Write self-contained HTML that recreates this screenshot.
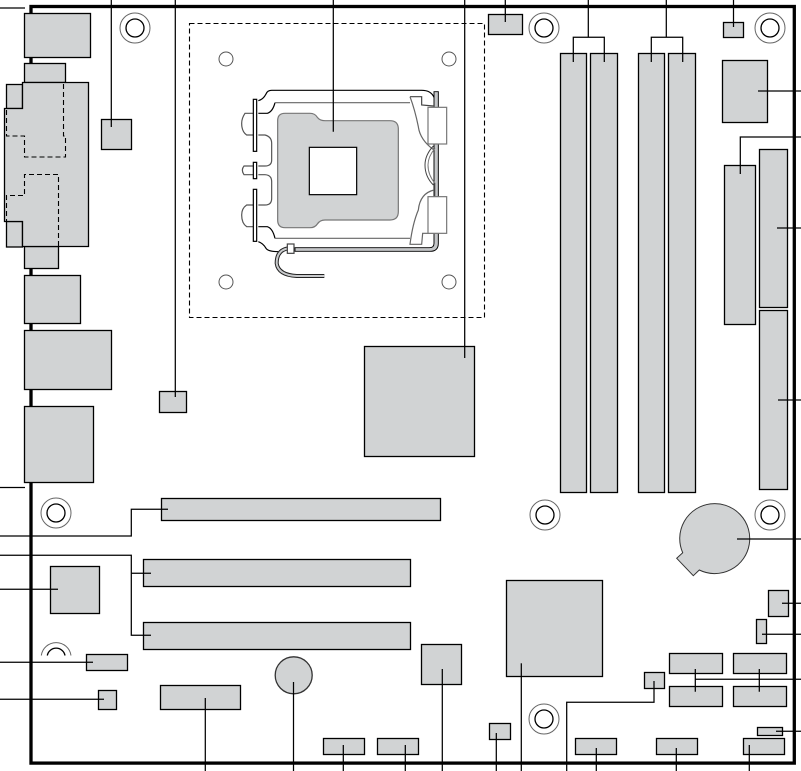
<!DOCTYPE html>
<html><head><meta charset="utf-8"><title>Board diagram</title>
<style>html,body{margin:0;padding:0;background:#fff}svg{display:block}</style></head>
<body>
<svg width="801" height="771" viewBox="0 0 801 771" xmlns="http://www.w3.org/2000/svg">
<rect width="801" height="771" fill="#fff"/>
<rect x="31" y="6.5" width="763.3" height="756.6" fill="none" stroke="#000" stroke-width="3.3"/>
<g fill="none" stroke="#000" stroke-width="1">
 <g stroke="#666"><circle cx="135" cy="28" r="15"/><circle cx="544" cy="28" r="15"/><circle cx="770" cy="28" r="15"/><circle cx="56" cy="513" r="15"/><circle cx="545" cy="515" r="15"/><circle cx="770" cy="515" r="15"/><circle cx="544" cy="719" r="15"/><path d="M41.3 655.5A15 15 0 0 1 71 655.5"/></g>
 <g stroke-width="1.3"><circle cx="135" cy="28" r="9"/><circle cx="544" cy="28" r="9"/><circle cx="770" cy="28" r="9"/><circle cx="56" cy="513" r="9"/><circle cx="545" cy="515" r="9"/><circle cx="770" cy="515" r="9"/><circle cx="544" cy="719" r="9"/><path d="M47.3 655.5A9 9 0 0 1 65 655.5"/></g>
</g>
<rect x="189.5" y="23.5" width="295" height="294" fill="none" stroke="#000" stroke-width="1.1" stroke-dasharray="5 3"/>
<g fill="#fff" stroke="#555" stroke-width="1"><circle cx="226" cy="59" r="7"/><circle cx="449" cy="59" r="7"/><circle cx="226" cy="282" r="7"/><circle cx="449" cy="282" r="7"/></g>
<g fill="#d1d3d4" stroke="#000" stroke-width="1.3">
 <rect x="6.5" y="84.5" width="16" height="24"/>
 <rect x="6.5" y="221.5" width="16" height="25.5"/>
 <rect x="24.5" y="13.5" width="66" height="44"/>
 <rect x="24.5" y="63.5" width="41" height="19"/>
 <rect x="24.5" y="246.5" width="34" height="22"/>
 <path d="M22.5 82.5H88.5V246.5H22.5V221.5H4.5V108.5H22.5Z"/>
 <rect x="24.5" y="275.5" width="56" height="48"/>
 <rect x="24.5" y="330.5" width="87" height="59"/>
 <rect x="24.5" y="406.5" width="69" height="76"/>
 <rect x="101.5" y="119.5" width="30" height="30"/>
 <rect x="159.5" y="391.5" width="27" height="21"/>
 <rect x="364.5" y="346.5" width="110" height="110"/>
 <rect x="488.5" y="14.5" width="34" height="20"/>
 <rect x="560.5" y="53.5" width="26" height="439"/>
 <rect x="590.5" y="53.5" width="27" height="439"/>
 <rect x="638.5" y="53.5" width="26" height="439"/>
 <rect x="668.5" y="53.5" width="27" height="439"/>
 <rect x="723.5" y="22.5" width="20" height="15"/>
 <rect x="722.5" y="60.5" width="45" height="62"/>
 <rect x="724.5" y="165.5" width="31" height="159"/>
 <rect x="759.5" y="149.5" width="28" height="158"/>
 <rect x="759.5" y="310.5" width="28" height="179"/>
 <rect x="161.5" y="498.5" width="279" height="22"/>
 <rect x="143.5" y="559.5" width="267" height="27"/>
 <rect x="143.5" y="622.5" width="267" height="27"/>
 <rect x="50.5" y="566.5" width="49" height="47"/>
 <rect x="86.5" y="654.5" width="41" height="16"/>
 <rect x="98.5" y="690.5" width="18" height="19"/>
 <rect x="160.5" y="685.5" width="80" height="24"/>
 <rect x="323.5" y="738.5" width="41" height="16"/>
 <rect x="377.5" y="738.5" width="41" height="16"/>
 <rect x="421.5" y="644.5" width="40" height="40"/>
 <rect x="489.5" y="723.5" width="21" height="16"/>
 <rect x="506.5" y="580.5" width="96" height="96"/>
 <rect x="644.5" y="672.5" width="20" height="16"/>
 <rect x="669.5" y="653.5" width="53" height="20"/>
 <rect x="733.5" y="653.5" width="53" height="20"/>
 <rect x="669.5" y="686.5" width="53" height="20"/>
 <rect x="733.5" y="686.5" width="53" height="20"/>
 <rect x="768.5" y="590.5" width="20" height="26"/>
 <rect x="756.5" y="619.5" width="10" height="24"/>
 <rect x="757.5" y="727.5" width="25" height="8"/>
 <rect x="575.5" y="738.5" width="41" height="16"/>
 <rect x="656.5" y="738.5" width="41" height="16"/>
 <rect x="743.5" y="738.5" width="41" height="16"/>
 <circle cx="293.7" cy="675.3" r="18.5" stroke="#333"/>
 <path d="M682.7 552.7A35 35 0 1 1 699.3 570L693.3 575.7L676.7 558.3Z" stroke="#333" stroke-width="1"/>
</g>
<g fill="none" stroke="#000" stroke-width="1.1" stroke-dasharray="5 3">
 <path d="M63.5 84V136H65.5V157H24.5V136H6.5V108"/>
 <path d="M58.5 246V174.5H24.5V195.5H6.5V222"/>
</g>
<g transform="translate(230 80) scale(.33333)" fill="none" stroke="#000" stroke-width="3.6">
 <path d="M612 35V490Q612 503 598 503L195 503V514H600Q625 514 625 490V35Z" fill="#c4c6c8" stroke-width="2.8"/>
 <path d="M85 62Q100 58 108 42Q112 31 125 31L575 31Q603 31 612 52"/>
 <path d="M85 100H112Q128 95 135 68"/>
 <path d="M135 68H540" stroke="#666"/>
 <path d="M85 440H112Q128 445 135 475"/>
 <path d="M135 475H540" stroke="#666"/>
 <path d="M85 485Q100 490 108 505Q115 515 145 515"/>
 <path d="M540 50H575V75L610 78" stroke="#444"/>
 <path d="M540 50Q555 90 565 140Q570 180 612 210" stroke="#666"/>
 <path d="M612 330Q570 340 565 390Q548 430 540 493H575L578 460H612" stroke="#666"/>
 <path d="M610 198Q585 225 585 255Q585 290 610 315" stroke="#444" stroke-width="3"/>
 <path d="M615 205Q594 230 594 255Q594 285 615 310V350" stroke="#777" stroke-width="3"/>
 <path d="M70 100H45Q35 115 35 130Q35 155 50 165H70" stroke="#555"/>
 <path d="M70 375H50Q35 385 35 405Q35 430 50 440H70" stroke="#555"/>
 <path d="M70 258H42Q32 270 42 284H70" stroke="#555"/>
 <path d="M85 165H105Q125 170 125 190V240Q125 258 105 258H85" stroke="#555"/>
 <path d="M85 284H105Q125 285 125 305V355Q125 375 105 375H85" stroke="#555"/>
 <rect x="70" y="58" width="10" height="156" fill="#fff"/>
 <rect x="70" y="247" width="10" height="49" fill="#fff"/>
 <rect x="70" y="328" width="10" height="156" fill="#fff"/>
 <rect x="594" y="82" width="56" height="110" fill="#fff" stroke="#777"/>
 <rect x="594" y="350" width="56" height="110" fill="#fff" stroke="#777"/>
 <path d="M175 505Q140 510 140 550Q145 585 200 588H283" stroke="#222" stroke-width="12"/>
 <path d="M175 505Q140 510 140 550Q145 585 200 588H283" stroke="#c8cacc" stroke-width="6"/>
 <rect x="172" y="492" width="20" height="28" fill="#fff" stroke="#444"/>
 <path d="M165 100H240Q255 100 262 112Q270 122 285 122H480Q505 122 505 147V395Q505 420 480 420H285Q270 420 262 432Q255 443 240 443H165Q143 443 143 420V122Q143 100 165 100Z" fill="#d1d3d4" stroke="#777"/>
 <rect x="238" y="202" width="142" height="142" fill="#fff" stroke="#000"/>
</g>
<g fill="none" stroke="#000" stroke-width="1.25">
 <path d="M0 8H25"/>
 <path d="M111.3 0V127"/>
 <path d="M175.3 0V397"/>
 <path d="M333.3 0V131.7"/>
 <path d="M464.7 0V358"/>
 <path d="M505.3 0V22"/>
 <path d="M588.3 0V37.3M573.3 62V37.3H604.3V62"/>
 <path d="M666.3 0V37.3M651.3 62V37.3H682.7V62"/>
 <path d="M733.5 0V27"/>
 <path d="M758 91H801"/>
 <path d="M801 137H740.3V174"/>
 <path d="M777 228H801"/>
 <path d="M778 400H801"/>
 <path d="M737 539H801"/>
 <path d="M782 603.3H801"/>
 <path d="M762 634.3H801"/>
 <path d="M695.3 669V691.7M759.3 669V691.7M695.3 679.3H801"/>
 <path d="M776 731.3H801"/>
 <path d="M0 487.5H25"/>
 <path d="M168 509.3H131.3V536H0"/>
 <path d="M0 555.3H131.3V635.3H151M131.3 573.3H151"/>
 <path d="M0 589.3H58"/>
 <path d="M0 662.3H93"/>
 <path d="M0 699.3H104"/>
 <path d="M205.3 698V771"/>
 <path d="M293.5 682V771"/>
 <path d="M343.3 745V771"/>
 <path d="M405.3 745V771"/>
 <path d="M442.3 669V771"/>
 <path d="M496.3 733V771"/>
 <path d="M521.3 663.3V771"/>
 <path d="M654 681V702.3H566.7V771"/>
 <path d="M596.3 748V771"/>
 <path d="M676.3 748V771"/>
 <path d="M749.3 745V771"/>
</g>
</svg>
</body></html>
